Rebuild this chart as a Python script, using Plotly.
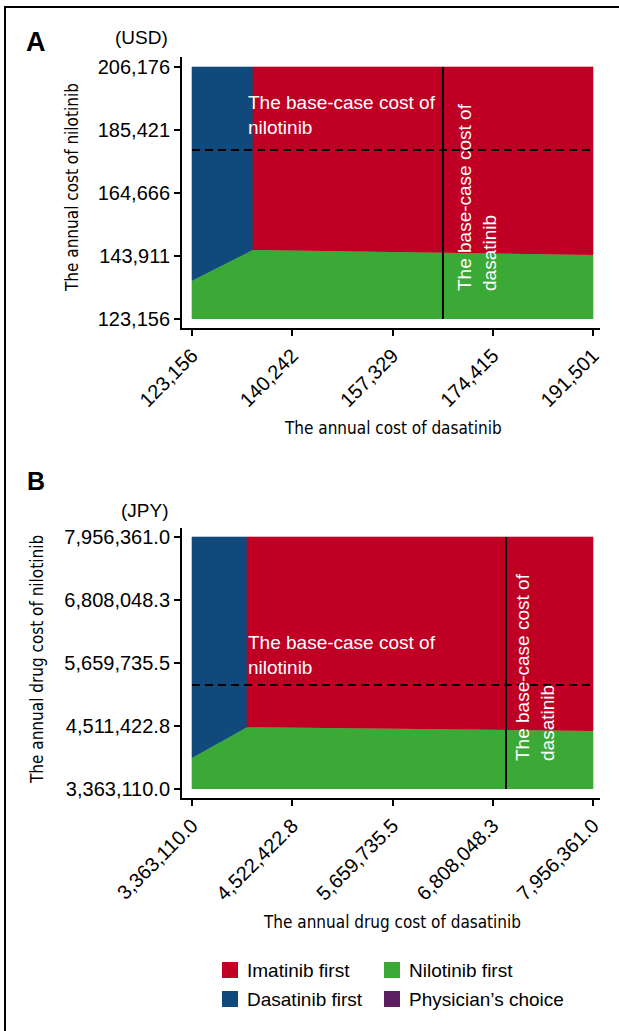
import plotly.graph_objects as go

# ---------------- data ----------------
# Panel A: annual drug costs in USD
usd_dasatinib_range = [123156, 191501]
usd_nilotinib_range = [123156, 206176]
usd_boundary_dasatinib = [123156, 133551, 191501]   # dasatinib cost at boundary vertices
usd_boundary_nilotinib = [135772, 145885, 144240]   # nilotinib cost where "Nilotinib first" ends
usd_base_dasatinib = 165926
usd_base_nilotinib = 178825
usd_x_tickvals = [123156, 140242.25, 157328.5, 174414.75, 191501]
usd_x_ticktext = ["123,156", "140,242", "157,329", "174,415", "191,501"]
usd_y_tickvals = [123156, 143911, 164666, 185421, 206176]
usd_y_ticktext = ["123,156", "143,911", "164,666", "185,421", "206,176"]

# Panel B: annual drug costs in JPY
jpy_dasatinib_range = [3363110.0, 7956361.0]
jpy_nilotinib_range = [3363110.0, 7956361.0]
jpy_boundary_dasatinib = [3363110.0, 3993108, 7956361.0]
jpy_boundary_nilotinib = [3928147, 4487716, 4420276]
jpy_base_dasatinib = 6959823
jpy_base_nilotinib = 5258718
jpy_x_tickvals = [3363110.0, 4511422.75, 5659735.5, 6808048.25, 7956361.0]
jpy_x_ticktext = ["3,363,110.0", "4,522,422.8", "5,659,735.5", "6,808,048.3", "7,956,361.0"]
jpy_y_tickvals = [3363110.0, 4511422.75, 5659735.5, 6808048.25, 7956361.0]
jpy_y_ticktext = ["3,363,110.0", "4,511,422.8", "5,659,735.5", "6,808,048.3", "7,956,361.0"]

strategies = ["Imatinib first", "Nilotinib first", "Dasatinib first", "Physician\u2019s choice"]
strategy_colors = {
    "Imatinib first": "#BF0024",
    "Nilotinib first": "#3BA935",
    "Dasatinib first": "#10497B",
    "Physician\u2019s choice": "#5B1F5F",
}

# ---------------- layout helpers ----------------
W, H = 619, 1031
FONT = "Liberation Sans, Arial, Helvetica, sans-serif"
NARROW = "DejaVu Sans Condensed, Liberation Sans Narrow, Arial Narrow, sans-serif"


def px(x):
    return x / W


def py(y):
    return 1 - y / H


def padded(rng, data_px, pad_lo_px, pad_hi_px):
    lo, hi = rng
    per_px = (hi - lo) / data_px
    return [lo - pad_lo_px * per_px, hi + pad_hi_px * per_px]


fig = go.Figure()


def add_panel(xa, ya, xr, yr, bx, by, base_x, base_y):
    x0, x1 = xr
    y0, y1 = yr
    polys = {
        "Nilotinib first": ([x0, x0, bx[1], bx[2], x1, x1], [y0, by[0], by[1], by[2], by[2], y0]),
        "Dasatinib first": ([x0, x0, bx[1], bx[1]], [by[0], y1, y1, by[1]]),
        "Imatinib first": ([bx[1], bx[1], x1, x1], [by[1], y1, y1, by[2]]),
    }
    for name, (xs, ys) in polys.items():
        fig.add_trace(go.Scatter(
            x=xs, y=ys, xaxis=xa, yaxis=ya, mode="lines", fill="toself",
            fillcolor=strategy_colors[name],
            line=dict(color=strategy_colors[name], width=0.6),
            name=name, showlegend=False, hoverinfo="name",
        ))
    # base-case nilotinib cost (dashed) and dasatinib cost (solid)
    fig.add_trace(go.Scatter(
        x=[x0, x1], y=[base_y, base_y], xaxis=xa, yaxis=ya, mode="lines",
        line=dict(color="black", width=2, dash="8px,5px"), showlegend=False, hoverinfo="skip",
    ))
    fig.add_trace(go.Scatter(
        x=[base_x, base_x], y=[y0, y1], xaxis=xa, yaxis=ya, mode="lines",
        line=dict(color="black", width=2), showlegend=False, hoverinfo="skip",
    ))


add_panel("x", "y", usd_dasatinib_range, usd_nilotinib_range,
          usd_boundary_dasatinib, usd_boundary_nilotinib, usd_base_dasatinib, usd_base_nilotinib)
add_panel("x2", "y2", jpy_dasatinib_range, jpy_nilotinib_range,
          jpy_boundary_dasatinib, jpy_boundary_nilotinib, jpy_base_dasatinib, jpy_base_nilotinib)

axis_style = dict(
    showline=True, linecolor="black", linewidth=2, mirror=False,
    ticks="outside", ticklen=6, tickwidth=2, tickcolor="black",
    showgrid=False, zeroline=False, automargin=False,
    tickfont=dict(family=FONT, size=20, color="black"),
)

fig.update_layout(
    width=W, height=H, margin=dict(l=0, r=0, t=0, b=0),
    paper_bgcolor="white", plot_bgcolor="white",
    font=dict(family=FONT, size=19, color="black"),
    xaxis=dict(axis_style, domain=[px(182), px(600)], anchor="y",
               range=padded(usd_dasatinib_range, 401, 10, 7),
               tickmode="array", tickvals=usd_x_tickvals, ticktext=usd_x_ticktext, tickangle=-45),
    yaxis=dict(axis_style, domain=[py(328), py(57)], anchor="x",
               range=padded(usd_nilotinib_range, 252, 9, 10),
               tickmode="array", tickvals=usd_y_tickvals, ticktext=usd_y_ticktext),
    xaxis2=dict(axis_style, domain=[px(182), px(600)], anchor="y2",
                range=padded(jpy_dasatinib_range, 401, 10, 7),
                tickmode="array", tickvals=jpy_x_tickvals, ticktext=jpy_x_ticktext, tickangle=-45),
    yaxis2=dict(axis_style, domain=[py(798), py(528)], anchor="x2",
                range=padded(jpy_nilotinib_range, 252, 9, 9),
                tickmode="array", tickvals=jpy_y_tickvals, ticktext=jpy_y_ticktext),
)

annotations = []


def note(text, x, y, size=19, family=FONT, color="black", xanchor="center",
         yanchor="middle", angle=0, align="center", bold=False):
    annotations.append(dict(
        text=f"<b>{text}</b>" if bold else text, x=px(x), y=py(y), xref="paper", yref="paper",
        showarrow=False, xanchor=xanchor, yanchor=yanchor, textangle=angle, align=align,
        font=dict(family=family, size=size, color=color),
    ))


# panel letters and currency units
note("A", 36, 42, size=27, bold=True)
note("(USD)", 141, 38)
note("B", 36, 481, size=25, bold=True)
note("(JPY)", 145, 510)

# axis titles
note("The annual cost of dasatinib", 393, 428, size=17, family=NARROW)
note("The annual cost of nilotinib", 72, 188, size=17, family=NARROW, angle=-90)
note("The annual drug cost of dasatinib", 392, 922, size=17, family=NARROW)
note("The annual drug cost of nilotinib", 37, 660, size=17, family=NARROW, angle=-90)

# reference-line labels
note("The base-case cost of<br>nilotinib", 246, 115, color="white", xanchor="left", align="left")
note("The base-case cost of<br>dasatinib", 477, 197, color="white", angle=-90, align="left")
note("The base-case cost of<br>nilotinib", 246, 655, color="white", xanchor="left", align="left")
note("The base-case cost of<br>dasatinib", 535, 667, color="white", angle=-90, align="left")

# legend (2 x 2 grid)
shapes = []
legend_slots = [(222, 970), (384, 970), (222, 999), (384, 999)]
for name, (lx, ly) in zip(strategies, legend_slots):
    shapes.append(dict(type="rect", xref="paper", yref="paper",
                       x0=px(lx), x1=px(lx + 16), y0=py(ly + 8), y1=py(ly - 8),
                       fillcolor=strategy_colors[name], line=dict(width=0)))
    note(name, lx + 23, ly, xanchor="left")

# outer frame
shapes.append(dict(type="rect", xref="paper", yref="paper",
                   x0=px(5), x1=px(W + 10), y0=py(H + 10), y1=py(7),
                   line=dict(color="black", width=2), fillcolor="rgba(0,0,0,0)"))

fig.update_layout(annotations=annotations, shapes=shapes)
fig.write_html("out.html")
